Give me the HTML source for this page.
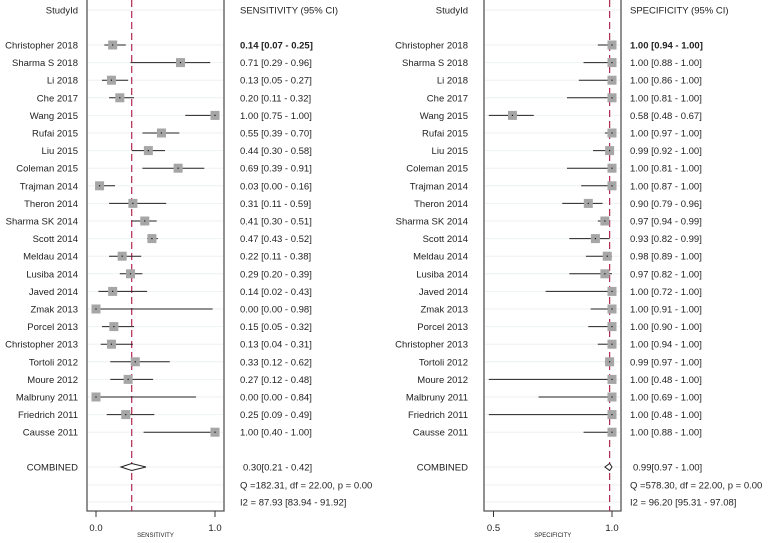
<!DOCTYPE html>
<html><head><meta charset="utf-8">
<style>
html,body{margin:0;padding:0;background:#fff;}
svg text{font-family:"Liberation Sans",Arial,sans-serif;fill:#222;}
</style></head>
<body>
<svg id="chart" width="778" height="538" viewBox="0 0 778 538" xmlns="http://www.w3.org/2000/svg"></svg>
<script>
const studies = ["Christopher 2018","Sharma S 2018","Li 2018","Che 2017","Wang 2015","Rufai 2015","Liu 2015","Coleman 2015","Trajman 2014","Theron 2014","Sharma SK 2014","Scott 2014","Meldau 2014","Lusiba 2014","Javed 2014","Zmak 2013","Porcel 2013","Christopher 2013","Tortoli 2012","Moure 2012","Malbruny 2011","Friedrich 2011","Causse 2011"];
const sensEst = [0.14,0.71,0.13,0.20,1.00,0.55,0.44,0.69,0.03,0.31,0.41,0.47,0.22,0.29,0.14,0.00,0.15,0.13,0.33,0.27,0.00,0.25,1.00];
const sensLo  = [0.07,0.29,0.05,0.11,0.75,0.39,0.30,0.39,0.00,0.11,0.30,0.43,0.11,0.20,0.02,0.00,0.05,0.04,0.12,0.12,0.00,0.09,0.40];
const sensHi  = [0.25,0.96,0.27,0.32,1.00,0.70,0.58,0.91,0.16,0.59,0.51,0.52,0.38,0.39,0.43,0.98,0.32,0.31,0.62,0.48,0.84,0.49,1.00];
const specEst = [1.00,1.00,1.00,1.00,0.58,1.00,0.99,1.00,1.00,0.90,0.97,0.93,0.98,0.97,1.00,1.00,1.00,1.00,0.99,1.00,1.00,1.00,1.00];
const specLo  = [0.94,0.88,0.86,0.81,0.48,0.97,0.92,0.81,0.87,0.79,0.94,0.82,0.89,0.82,0.72,0.91,0.90,0.94,0.97,0.48,0.69,0.48,0.88];
const specHi  = [1.00,1.00,1.00,1.00,0.67,1.00,1.00,1.00,1.00,0.96,0.99,0.99,1.00,1.00,1.00,1.00,1.00,1.00,1.00,1.00,1.00,1.00,1.00];
const sensPooled = [0.30,0.21,0.42];
const specPooled = [0.99,0.97,1.00];
const sensStats = ["Q =182.31, df = 22.00, p =  0.00","I2 = 87.93 [83.94 - 91.92]"];
const specStats = ["Q =578.30, df = 22.00, p =  0.00","I2 = 96.20 [95.31 - 97.08]"];
const sensTicks = [0.0,1.0];
const specTicks = [0.5,1.0];

const svg = document.getElementById('chart');
const NS = "http://www.w3.org/2000/svg";
function mk(tag, attrs, parent){const e=document.createElementNS(NS,tag);for(const k in attrs)e.setAttribute(k,attrs[k]);(parent||svg).appendChild(e);return e;}
function rowY(i){return 45 + i*17.6;}
const f2 = v => v.toFixed(2);

function panel(cfg){
  const g = mk('g',{});
  
  
  const x = v => cfg.x0 + (v - cfg.d0)/(cfg.d1 - cfg.d0)*(cfg.x1 - cfg.x0);
  // gridlines
  const gy=[10];
  for(let i=0;i<studies.length;i++) gy.push(rowY(i));
  gy.push(467,485,502);
  gy.forEach(y=>{const l=mk('line',{x1:cfg.bl+1,x2:cfg.br-1,y1:y,y2:y,stroke:'#eef2f2','stroke-width':1},g);
    });
  // box
  const b = mk('path',{d:`M${cfg.bl},0 V511 H${cfg.br} V0`,fill:'none',stroke:'#555','stroke-width':1.3},g);
   
  // ticks
  cfg.ticks.forEach(t=>{
    const tl=mk('line',{x1:x(t),x2:x(t),y1:511,y2:517,stroke:'#333','stroke-width':1},g);
    
    const tt=mk('text',{x:x(t),y:531,'font-size':9.5,'text-anchor':'middle'},g);tt.textContent=t.toFixed(1);
    
  });
  const at=mk('text',{x:(x(cfg.ticks[0])+x(cfg.ticks[1]))/2,y:537,'font-size':6,'text-anchor':'middle'},g);
  at.textContent=cfg.title;  
  // headers
  const h1=mk('text',{x:cfg.lx,y:13.5,'font-size':9.5,'text-anchor':'end'},g);h1.textContent='StudyId';
  
  const h2=mk('text',{x:cfg.tx,y:13.5,'font-size':9.5},g);h2.textContent=cfg.header;
  
  // pooled line
  const pl=mk('line',{x1:x(cfg.pooled[0]),x2:x(cfg.pooled[0]),y1:0,y2:511,stroke:'#b0284f','stroke-width':1.2,'stroke-dasharray':'7,4'},g);
  
  // rows
  for(let i=0;i<studies.length;i++){
    const y=rowY(i);
    const lab=mk('text',{x:cfg.lx,y:y+3.5,'font-size':9.5,'text-anchor':'end'},g);lab.textContent=studies[i];
    
    const ci=mk('line',{x1:x(cfg.lo[i]),x2:x(cfg.hi[i]),y1:y,y2:y,stroke:'#222','stroke-width':1},g);
    
    const s=9;
    const bx=mk('rect',{x:x(cfg.est[i])-s/2,y:y-s/2,width:s,height:s,fill:'#a6a6a6'},g);
    
    const dt=mk('rect',{x:x(cfg.est[i])-0.6,y:y-0.6,width:1.2,height:1.2,fill:'#111'},g);
    
    const vt=mk('text',{x:cfg.tx,y:y+3.5,'font-size':9.5,'font-weight':i===0?'bold':'normal'},g);
    vt.textContent=`${f2(cfg.est[i])} [${f2(cfg.lo[i])} - ${f2(cfg.hi[i])}]`;
    
  }
  // combined
  const cy=467;
  const cl=mk('text',{x:cfg.lx,y:cy+3.5,'font-size':9.5,'text-anchor':'end'},g);cl.textContent='COMBINED';
  
  const d=mk('polygon',{points:`${x(cfg.pooled[1])},${cy} ${x(cfg.pooled[0])},${cy-3.5} ${x(cfg.pooled[2])},${cy} ${x(cfg.pooled[0])},${cy+3.5}`,fill:'#fff',stroke:'#222','stroke-width':1},g);
  
  const ct=mk('text',{x:cfg.tx+3,y:cy+3.5,'font-size':9.5},g);
  ct.textContent=`${f2(cfg.pooled[0])}[${f2(cfg.pooled[1])} - ${f2(cfg.pooled[2])}]`;
  
  const q=mk('text',{x:cfg.tx,y:485+3.5,'font-size':9.5},g);q.textContent=cfg.stats[0];
  
  const i2=mk('text',{x:cfg.tx,y:502+3.5,'font-size':9.5},g);i2.textContent=cfg.stats[1];
  
}
panel({name:'sensitivity',bl:87,br:224,x0:96,x1:215,d0:0,d1:1,lx:78,tx:240,ticks:sensTicks,title:'SENSITIVITY',header:'SENSITIVITY (95% CI)',est:sensEst,lo:sensLo,hi:sensHi,pooled:sensPooled,stats:sensStats});
panel({name:'specificity',bl:484,br:621,x0:493.5,x1:612,d0:0.5,d1:1,lx:468,tx:630,ticks:specTicks,title:'SPECIFICITY',header:'SPECIFICITY (95% CI)',est:specEst,lo:specLo,hi:specHi,pooled:specPooled,stats:specStats});
</script>
</body></html>
